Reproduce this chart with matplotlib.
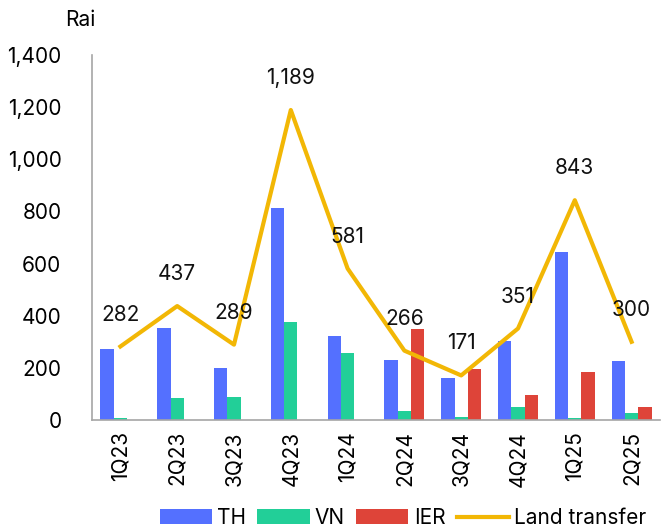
import matplotlib
matplotlib.use("Agg")
import matplotlib.pyplot as plt
import numpy as np

plt.rcParams['font.family'] = ['Inter', 'DejaVu Sans']

quarters = ["1Q23", "2Q23", "3Q23", "4Q23", "1Q24", "2Q24", "3Q24", "4Q24", "1Q25", "2Q25"]
th = [273, 353, 200, 813, 322, 230, 162, 303, 645, 227]
vn = [9, 83, 87, 374, 258, 36, 10, 48, 6, 25]
ier = [0, 0, 0, 0, 0, 350, 197, 97, 185, 48]
land_transfer = [282, 437, 289, 1189, 581, 266, 171, 351, 843, 300]
label_text = ["282", "437", "289", "1,189", "581", "266", "171", "351", "843", "300"]

c_th = "#5470FF"
c_vn = "#22CF98"
c_ier = "#DE4439"
c_line = "#F2B705"

fig = plt.figure(figsize=(6.68, 5.30), dpi=100)
ax = fig.add_axes([92/668, 110/530, 568/668, 365/530])

x = np.arange(len(quarters))
w = 0.235
h_th = ax.bar(x - w, th, w, color=c_th, label="TH")
h_vn = ax.bar(x, vn, w, color=c_vn, label="VN")
h_ier = ax.bar(x + w, ier, w, color=c_ier, label="IER")
h_line, = ax.plot(x, land_transfer, color=c_line, lw=3, label="Land transfer")

for xi, v, t in zip(x, land_transfer, label_text):
    ax.annotate(t, (xi, v), xytext=(0, 23), textcoords="offset points",
                ha="center", va="center", fontsize=15, color="#111111")

ax.set_xlim(-0.5, len(quarters) - 0.5)
ax.set_ylim(0, 1400)
ax.set_yticks(range(0, 1401, 200))
ax.set_yticklabels([f"{v:,}" for v in range(0, 1401, 200)], fontsize=15)
ax.set_xticks(x)
ax.set_xticklabels(quarters, rotation=90, fontsize=15)
ax.tick_params(length=0, pad=8)
ax.tick_params(axis='y', pad=22)
for s in ["top", "right"]:
    ax.spines[s].set_visible(False)
for s in ["left", "bottom"]:
    ax.spines[s].set_color("#A6A6A6")
    ax.spines[s].set_linewidth(1.2)

fig.text(80/668, 1 - 20/530, "Rai", fontsize=15, ha="center", va="center")

fig.legend(handles=[h_th, h_vn, h_ier, h_line], loc="center",
           bbox_to_anchor=(403/668, 1 - 518/530), ncol=4,
           frameon=False, fontsize=15, handlelength=2.5, handletextpad=0.25,
           columnspacing=0.55)

fig.savefig("out.png", dpi=100)
